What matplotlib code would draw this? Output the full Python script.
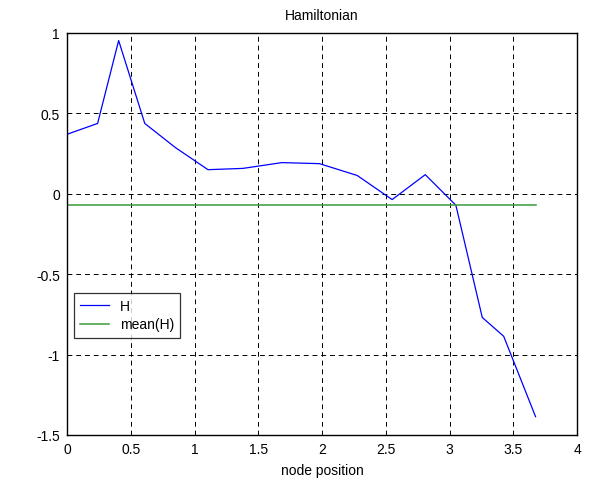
import matplotlib
matplotlib.use("Agg")
import matplotlib.pyplot as plt

x_pos = [0.0, 0.24, 0.405, 0.61, 0.85, 1.106, 1.38, 1.685, 1.98, 2.276,
         2.55, 2.81, 3.05, 3.257, 3.425, 3.675]
H = [0.37, 0.4375, 0.953, 0.4375, 0.2875, 0.15, 0.158, 0.194, 0.1875, 0.114,
     -0.036, 0.119, -0.071, -0.769, -0.886, -1.386]
mean_H = -0.071
x_ticks = [0, 0.5, 1, 1.5, 2, 2.5, 3, 3.5, 4]
y_ticks = [-1.5, -1, -0.5, 0, 0.5, 1]
x_tick_labels = ["0", "0.5", "1", "1.5", "2", "2.5", "3", "3.5", "4"]
y_tick_labels = ["-1.5", "-1", "-0.5", "0", "0.5", "1"]

FS = 10
plt.rcParams['font.family'] = ['Liberation Sans', 'DejaVu Sans']
fig = plt.figure(figsize=(5.94, 4.81), dpi=100)
W, Hh = 594, 481
ax = fig.add_axes([67 / W, 1 - 436 / Hh, 510 / W, 402 / Hh])

ax.plot(x_pos, H, color='#0000ff', lw=0.9, label='H')
ax.plot([x_pos[0], x_pos[-1]], [mean_H, mean_H], color='#3a9a3a', lw=1.1, label='mean(H)')

ax.set_xlim(0, 4)
ax.set_ylim(-1.5, 1)
ax.set_xticks(x_ticks)
ax.set_xticklabels(x_tick_labels)
ax.set_yticks(y_ticks)
ax.set_yticklabels(y_tick_labels)
ax.tick_params(direction='in', length=0, labelsize=FS, pad=5, colors='black')
ax.grid(True, color='black', linestyle=(0, (5, 4)), lw=0.7)
for s in ax.spines.values():
    s.set_linewidth(1.0)

ax.set_title('Hamiltonian', fontsize=FS, pad=10)
ax.set_xlabel('node position', fontsize=FS, labelpad=5)

leg = ax.legend(loc='upper left', bbox_to_anchor=((74 - 67) / 510, (436 - 294) / 402),
                fontsize=FS, frameon=True, fancybox=False, edgecolor='black',
                borderpad=0.45, handlelength=2.1, handletextpad=0.75,
                labelspacing=0.3, borderaxespad=0)
leg._legend_box.sep = 0
leg.get_frame().set_linewidth(0.9)
# widen the box slightly to match the reference frame width
fig.canvas.draw()
bb = leg.get_window_extent()
target_w = 114
pad_extra = max(0, target_w - bb.width)
leg.get_frame().set_width(bb.width + pad_extra)

fig.savefig('out.png', dpi=100)
